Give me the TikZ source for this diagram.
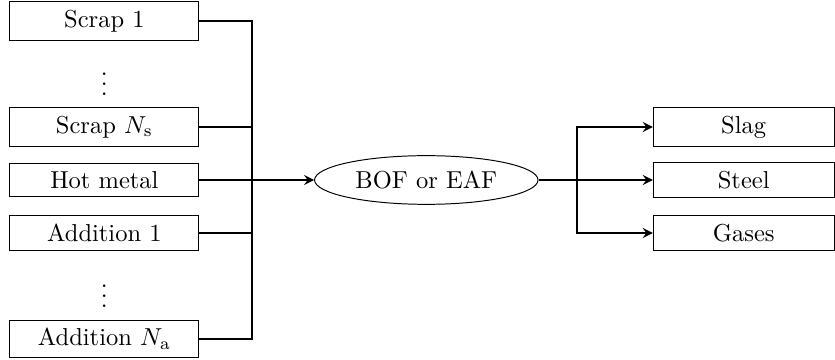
\documentclass[tikz,border=0pt]{standalone}
\usetikzlibrary{shapes.geometric}
\begin{document}
\begin{tikzpicture}[x=0.408pt,y=-0.408pt,
  inbox/.style={draw,thin,minimum width=77.1pt,align=center},
  outbox/.style={draw,thin,minimum width=73.8pt,align=center},
  dotsnode/.style={inner sep=0pt},
  conn/.style={thick},
  arr/.style={thick,-stealth}]
\useasboundingbox (0,0) rectangle (835,360);
\node[inbox] (s1) at (104.4,21) {Scrap 1};
\node[dotsnode] (d1) at (104.4,77) {$\vdots$};
\node[inbox] (sn) at (104.4,127) {Scrap $N_{\mathrm{s}}$};
\node[inbox] (hm) at (104.4,180) {Hot metal};
\node[inbox] (a1) at (104.4,233) {Addition 1};
\node[dotsnode] (d2) at (104.4,289) {$\vdots$};
\node[inbox] (an) at (104.4,339) {Addition $N_{\mathrm{a}}$};
\node[draw,thin,ellipse] (bof) at (426.3,180) {BOF or EAF};
\node[outbox] (slag) at (743.7,127) {Slag};
\node[outbox] (steel) at (743.7,180) {Steel};
\node[outbox] (gas) at (743.7,233) {Gases};
\coordinate (jl) at (251.7,180);
\coordinate (jr) at (576.7,180);
\draw[conn] (s1.east) -| (jl);
\draw[conn] (sn.east) -| (jl);
\draw[conn] (a1.east) -| (jl);
\draw[conn] (an.east) -| (jl);
\draw[arr] (hm.east) -- (bof.west);
\draw[arr] (bof.east) -- (steel.west);
\draw[arr] (jr) |- (slag.west);
\draw[arr] (jr) |- (gas.west);
\end{tikzpicture}
\end{document}
